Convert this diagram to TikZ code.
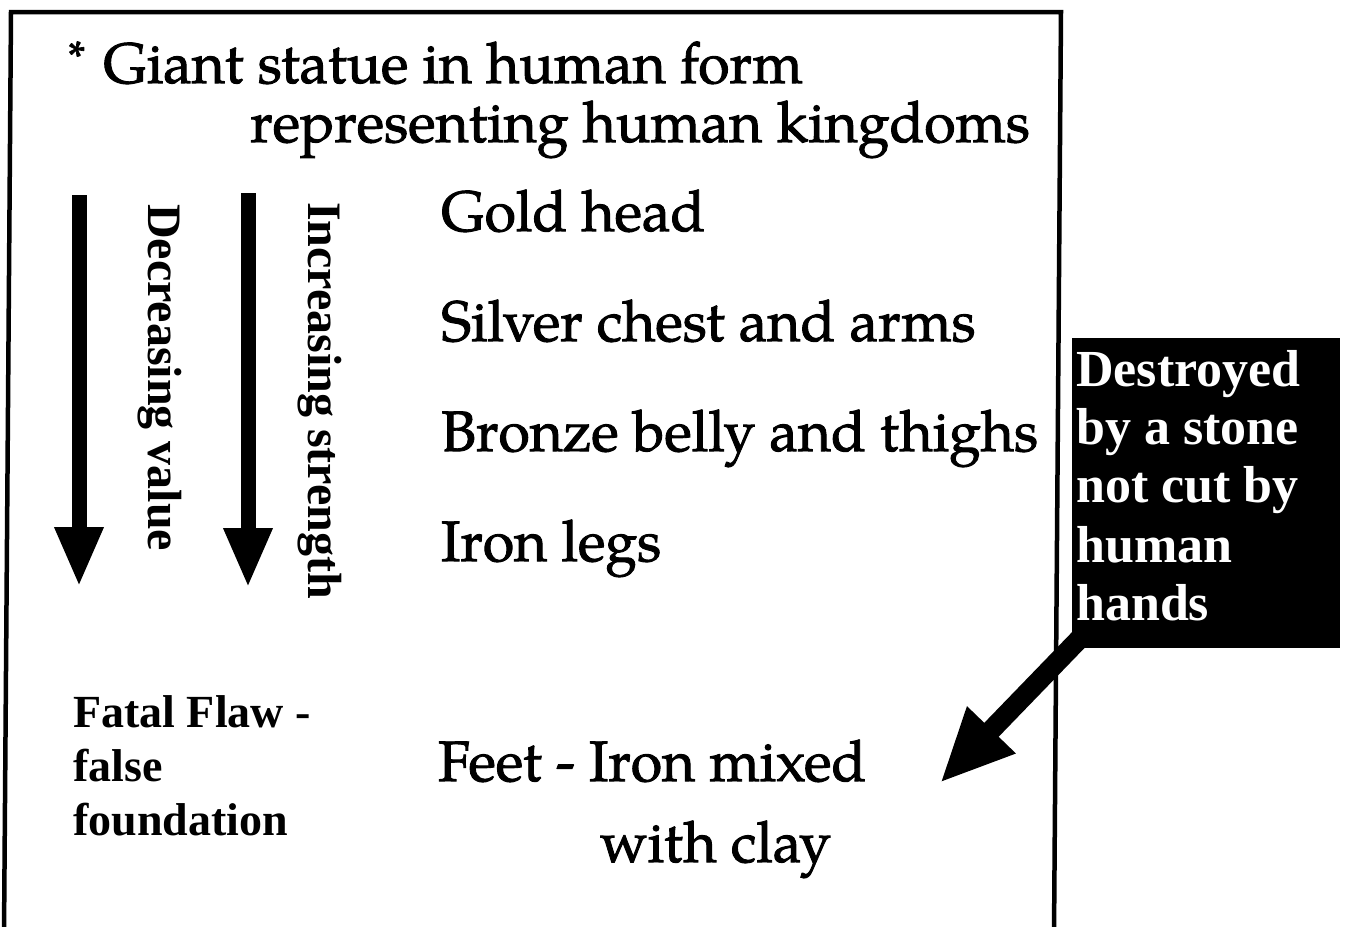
\documentclass[tikz,border=0pt]{standalone}
\usepackage{fontspec}
\usetikzlibrary{arrows.meta}
\newfontfamily\pal{texgyrepagella}[Extension=.otf,UprightFont=*-regular,BoldFont=*-bold,FakeBold=1.6]
\newfontfamily\tnr{Liberation Serif}
\begin{document}
\begin{tikzpicture}[x=1pt,y=-1pt,
  pala/.style={font=\pal\fontsize{57}{57}\selectfont, anchor=base west, inner sep=0pt},
  tmb/.style={font=\tnr\bfseries\fontsize{46}{46}\selectfont, anchor=base west, inner sep=0pt},
  boxtxt/.style={font=\tnr\bfseries\fontsize{52}{52}\selectfont, text=white, anchor=base west, inner sep=0pt},
  vert/.style={font=\tnr\bfseries\fontsize{48}{48}\selectfont, rotate=-90, anchor=base west, inner sep=0pt},
  bigarrow/.style={line width=15pt, -{Triangle[length=60pt,width=45pt]}},
  diagarrow/.style={line width=20pt, -{Triangle[length=74pt,width=62pt]}},
  frame/.style={line width=4.5pt, line join=miter}]
\useasboundingbox (0,0) rectangle (1345,927);
\fill[white] (0,0) rectangle (1345,927);

% outer frame (open at the bottom)
\draw[frame] (4,935) -- (11,12) -- (1061,12) -- (1054,935);

% title
\node[pala] (t1) at (68,83) {\raisebox{11pt}{\fontsize{44}{44}\selectfont *}\hspace{18pt}Giant statue in human form};
\node[pala] (t2) at (250,142) {representing human kingdoms};

% parts of the statue
\node[pala] (gold) at (441,231) {Gold head};
\node[pala] (silver) at (441,341) {Silver chest and arms};
\node[pala] (bronze) at (441,451) {Bronze belly and thighs};
\node[pala] (iron) at (441,561) {Iron legs};
\node[pala] (feet1) at (438,781) {Feet - Iron mixed};
\node[pala] (feet2) at (600,862) {with clay};

% fatal flaw
\node[tmb] (ff1) at (73,727) {Fatal Flaw -};
\node[tmb] (ff2) at (73,781) {false};
\node[tmb] (ff3) at (73,835) {foundation};

% vertical arrows and labels
\coordinate (a1s) at (79,195);
\coordinate (a1e) at (79,587);
\coordinate (a2s) at (248,193);
\coordinate (a2e) at (248,588);
\draw[bigarrow] (a1s) -- (a1e);
\draw[bigarrow] (a2s) -- (a2e);
\node[vert] (dec) at (148,204) {Decreasing value};
\node[vert] (inc) at (308,202) {Increasing strength};

% diagonal arrow from the black box
\coordinate (ds) at (1088,630);
\coordinate (de) at (940,783);
\draw[diagarrow] (ds) -- (de);

% black box
\node[fill=black, minimum width=268pt, minimum height=310pt, anchor=north west, inner sep=0pt] (box) at (1072,338) {};
\node[boxtxt] (b1) at (1076,386) {Destroyed};
\node[boxtxt] (b2) at (1076,444) {by a stone};
\node[boxtxt] (b3) at (1076,502) {not cut by};
\node[boxtxt] (b4) at (1076,562) {human};
\node[boxtxt] (b5) at (1076,620) {hands};
\end{tikzpicture}
\end{document}
